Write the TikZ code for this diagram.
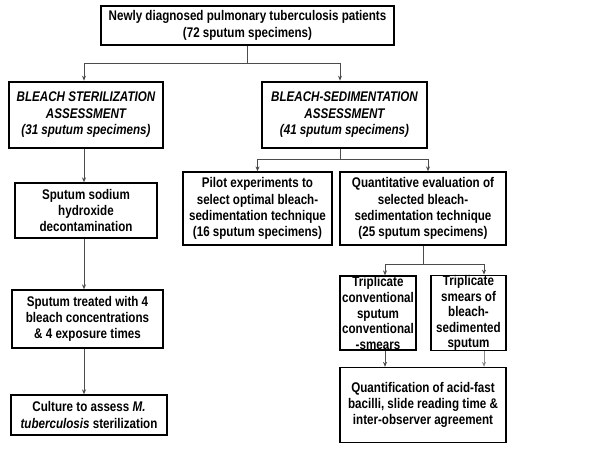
\documentclass[tikz,border=0pt]{standalone}
\usepackage{fontspec}
\setmainfont{Liberation Sans}[FakeStretch=0.83]
\usetikzlibrary{arrows.meta}
\begin{document}
\begin{tikzpicture}[x=1pt,y=-1pt,
  box/.style={draw=black,line width=1.3pt,fill=white,align=center,inner sep=0pt,
    font=\fontsize{14}{16.2}\selectfont\bfseries},
  bbox/.style={box,line width=2.6pt,font=\fontsize{14}{16.5}\selectfont\bfseries\itshape},
  tbox/.style={box,font=\fontsize{14}{15.6}\selectfont\bfseries},
  conn/.style={draw=black!70,line width=0.8pt},
  arr/.style={conn,-{Stealth[length=5pt,width=4pt]}}]
\useasboundingbox (0,0) rectangle (600,450);
\node[box,minimum width=293pt,minimum height=39pt,font=\fontsize{14}{17}\selectfont\bfseries] (top) at (247.5,25.5)
  {Newly diagnosed pulmonary tuberculosis patients\\(72 sputum specimens)};
\node[bbox,minimum width=154pt,minimum height=66pt] (lb) at (86,115)
  {BLEACH STERILIZATION\\ASSESSMENT\\(31 sputum specimens)};
\node[bbox,minimum width=165pt,minimum height=66pt] (rb) at (344.5,115)
  {BLEACH-SEDIMENTATION\\ASSESSMENT\\(41 sputum specimens)};
\node[box,minimum width=142pt,minimum height=55pt] (sod) at (86,210.5)
  {Sputum sodium\\hydroxide\\decontamination};
\node[box,minimum width=151pt,minimum height=58pt] (trt) at (87.5,319)
  {Sputum treated with 4\\bleach concentrations\\\& 4 exposure times};
\node[box,minimum width=156pt,minimum height=40pt] (cul) at (89,415)
  {Culture to assess \textit{M.}\\\textit{tuberculosis} sterilization};
\node[box,minimum width=149pt,minimum height=73pt] (pil) at (257.5,208.5)
  {Pilot experiments to\\select optimal bleach-\\sedimentation technique\\(16 sputum specimens)};
\node[box,minimum width=166pt,minimum height=73pt] (qev) at (423,208.5)
  {Quantitative evaluation of\\selected bleach-\\sedimentation technique\\(25 sputum specimens)};
\node[tbox,minimum width=76pt,minimum height=74pt] (tl) at (378,313)
  {Triplicate\\conventional\\sputum\\conventional\\-smears};
\node[tbox,minimum width=75pt,minimum height=74pt] (tr) at (468.5,313)
  {Triplicate\\smears of\\bleach-\\sedimented\\sputum};
\node[box,minimum width=166pt,minimum height=75pt] (qf) at (423,405)
  {Quantification of acid-fast\\bacilli, slide reading time \&\\inter-observer agreement};
% connectors
\coordinate (y1) at (0,63);
\coordinate (j1) at (top.south |- y1);
\draw[conn] (top.south) -- (j1);
\draw[arr] (j1) -| ([xshift=-2pt]lb.north);
\draw[arr] (j1) -| ([xshift=-4.5pt]rb.north);
\draw[arr] ([xshift=-2pt]lb.south) -- ([xshift=-2pt]sod.north);
\draw[arr] ([xshift=-2pt]sod.south) -- ([xshift=-3.5pt]trt.north);
\draw[arr] ([xshift=-3.5pt]trt.south) -- ([xshift=-5pt]cul.north);
\coordinate (y2) at (0,159);
\coordinate (j2) at ([xshift=-4.5pt]rb.south |- y2);
\draw[conn] ([xshift=-4.5pt]rb.south) -- (j2);
\draw[arr] (j2) -| (pil.north);
\draw[arr] (j2) -| ([xshift=5pt]qev.north);
\coordinate (y3) at (0,264);
\coordinate (j3) at (qev.south |- y3);
\draw[conn] (qev.south) -- (j3);
\draw[arr] (j3) -| ([xshift=7pt]tl.north);
\draw[arr] (j3) -| ([xshift=15.5pt]tr.north);
\draw[arr] ([xshift=7pt]tl.south) -- ([xshift=7pt]tl.south |- qf.north);
\draw[arr,draw=black!45] ([xshift=15.5pt]tr.south) -- ([xshift=15.5pt]tr.south |- qf.north);
\end{tikzpicture}
\end{document}
